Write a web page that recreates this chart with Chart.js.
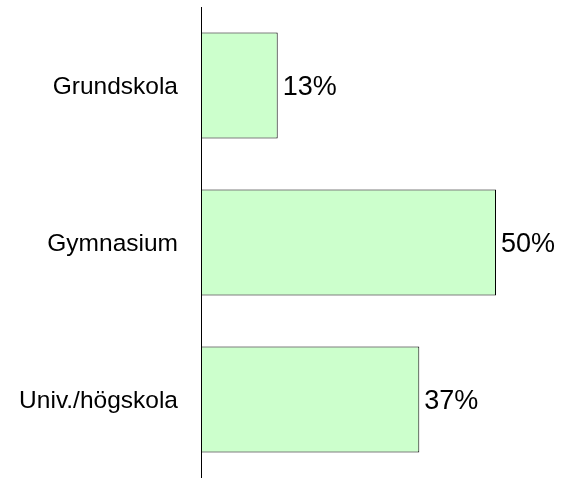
<!DOCTYPE html>
<html>
<head>
<meta charset="utf-8">
<script src="https://cdn.jsdelivr.net/npm/chart.js@4"></script>
<style>
  html, body { margin: 0; padding: 0; background: #fff; }
</style>
</head>
<body>
<canvas id="c" width="563" height="478"></canvas>
<script>
// education level shares (%)
const categories = ['Grundskola', 'Gymnasium', 'Univ./högskola'];
const shares = [13, 50, 37];

// draws "NN%" just right of each bar end
const valueLabels = {
    id: 'valueLabels',
    afterDatasetsDraw(chart) {
        const ctx = chart.ctx;
        const meta = chart.getDatasetMeta(0);
        ctx.save();
        ctx.font = '27px "Liberation Sans", Arial, sans-serif';
        ctx.fillStyle = '#000';
        ctx.textAlign = 'left';
        ctx.textBaseline = 'middle';
        meta.data.forEach((bar, i) => {
            ctx.fillText(shares[i] + '%', bar.x + 5, bar.y + 2);
        });
        ctx.restore();
    }
};

new Chart(document.getElementById('c'), {
    type: 'bar',
    data: {
        labels: categories,
        datasets: [{
            data: shares,
            backgroundColor: '#ccffcc',
            borderColor: '#000',
            borderWidth: 1,
            borderSkipped: false,
            categoryPercentage: 0.675,
            barPercentage: 1
        }]
    },
    options: {
        indexAxis: 'y',
        responsive: false,
        animation: false,
        layout: { padding: { top: 7, bottom: 0, left: 0, right: 8 } },
        plugins: { legend: { display: false }, tooltip: { enabled: false } },
        scales: {
            x: { display: false, min: 0, max: 60 },
            y: {
                grid: { display: false },
                border: { display: true, color: '#000', width: 1 },
                ticks: {
                    color: '#000',
                    padding: 15,
                    labelOffset: 2,
                    font: { family: '"Liberation Sans", Arial, sans-serif', size: 24.5 }
                },
                afterFit(scale) {
                    scale.width = 201;
                    // tick padding would otherwise shrink the plot vertically
                    scale.paddingTop = 0;
                    scale.paddingBottom = 0;
                }
            }
        }
    },
    plugins: [valueLabels]
});
</script>
</body>
</html>
